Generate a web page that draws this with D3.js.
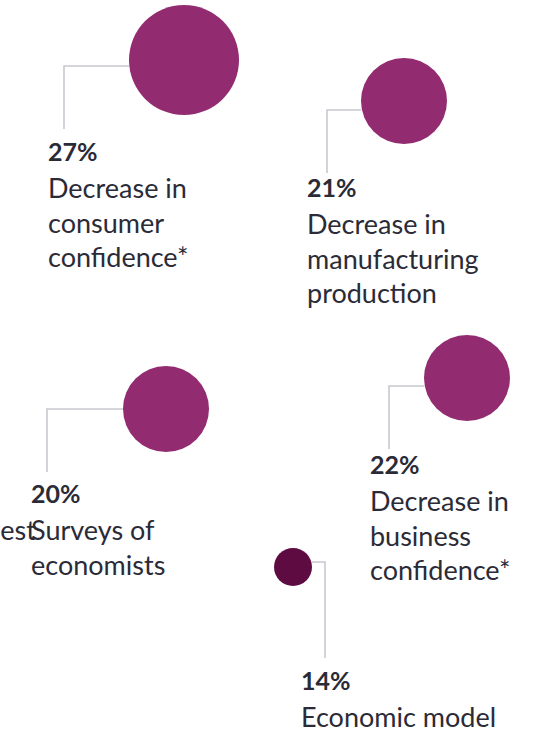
<!DOCTYPE html>
<html>
<head>
<meta charset="utf-8">
<script src="https://cdn.jsdelivr.net/npm/d3@7"></script>
<style>
  html, body { margin: 0; padding: 0; background: #ffffff; }
  svg { display: block; }
</style>
</head>
<body>
<div id="chart"></div>
<script>
// Data: share of signals and their labels
const values = [27, 21, 20, 22, 14];
const labels = [
  ["Decrease in", "consumer", "confidence*"],
  ["Decrease in", "manufacturing", "production"],
  ["Surveys of", "economists"],
  ["Decrease in", "business", "confidence*"],
  ["Economic model"]
];
const dark = [false, false, false, false, true];

// Layout of each callout (bubble centre, elbow of leader line, text anchor)
const layout = [
  { cx: 184, cy: 60,  lx: 64,  ly: 66,  ly2: 129, tx: 48,  ty: 161 },
  { cx: 404, cy: 101, lx: 327, ly: 110, ly2: 173, tx: 307, ty: 197 },
  { cx: 166, cy: 409, lx: 47,  ly: 409, ly2: 472, tx: 31,  ty: 503 },
  { cx: 467, cy: 378, lx: 389, ly: 386, ly2: 449, tx: 370, ty: 474 },
  { cx: 293, cy: 567, lx: 325, ly: 562, ly2: 658, tx: 301, ty: 690 }
];

const W = 536, H = 732;
const FONT = "Lato, 'Open Sans', sans-serif";
const INK = "#2b2b37";

const svg = d3.select("#chart").append("svg")
  .attr("width", W).attr("height", H);

const r = d3.scaleLinear().domain([14, 20, 22, 27]).range([19, 43, 43, 55]);

const items = values.map((v, i) => ({ v, lines: labels[i], dark: dark[i], ...layout[i] }));

const g = svg.selectAll("g.item").data(items).join("g").attr("class", "item");

// leader lines
g.append("path")
  .attr("fill", "none")
  .attr("stroke", "#c8c8d0")
  .attr("stroke-width", 1.6)
  .attr("d", d => {
    const edge = d.lx < d.cx ? d.cx - r(d.v) : d.cx + r(d.v);
    return `M${edge},${d.ly}H${d.lx}V${d.ly2}`;
  });

// bubbles
g.append("circle")
  .attr("cx", d => d.cx)
  .attr("cy", d => d.cy)
  .attr("r", d => r(d.v))
  .attr("fill", d => d.dark ? "#5e0b41" : "#922b70");

// value
g.append("text")
  .attr("x", d => d.tx)
  .attr("y", d => d.ty)
  .attr("font-family", FONT)
  .attr("font-weight", 700)
  .attr("font-size", 25)
  .attr("fill", INK)
  .text(d => d.v + "%");

// description
g.append("text")
  .attr("font-family", FONT)
  .attr("font-size", 27)
  .attr("fill", INK)
  .selectAll("tspan")
  .data(d => d.lines.map((t, k) => ({ t, x: d.tx, y: d.ty + 37 + k * 34.5 })))
  .join("tspan")
  .attr("x", d => d.x)
  .attr("y", d => d.y)
  .text(d => d.t);

// clipped fragment of a neighbouring label
svg.append("text")
  .attr("x", 36).attr("y", 540)
  .attr("text-anchor", "end")
  .attr("font-family", FONT)
  .attr("font-size", 27)
  .attr("fill", INK)
  .text("est");
</script>
</body>
</html>
